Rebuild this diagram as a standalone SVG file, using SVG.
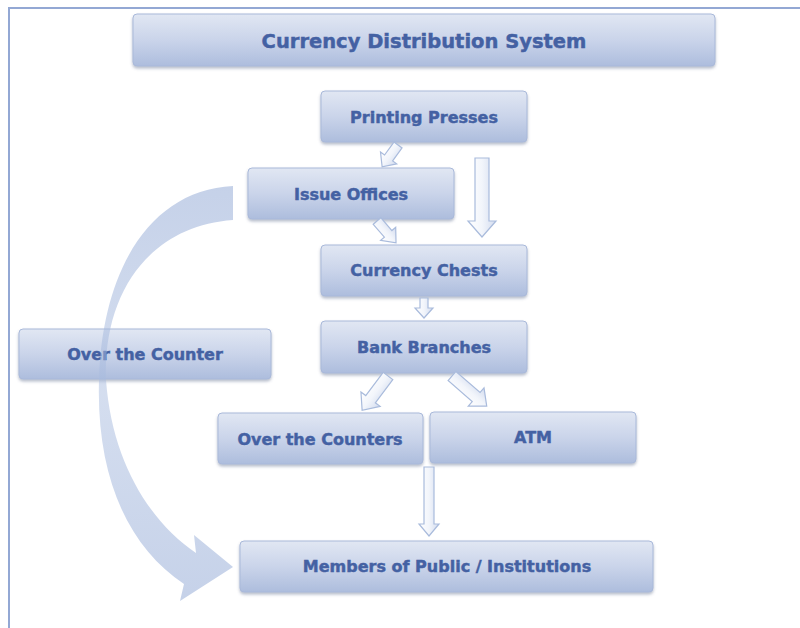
<svg xmlns="http://www.w3.org/2000/svg" width="800" height="628" viewBox="0 0 800 628">
<defs>
<linearGradient id="boxg" x1="0" y1="0" x2="0" y2="1">
<stop offset="0" stop-color="#e1e7f3"/>
<stop offset="0.5" stop-color="#cad4ea"/>
<stop offset="1" stop-color="#adbddd"/>
</linearGradient>
<linearGradient id="arrg" x1="0" y1="0" x2="1" y2="0">
<stop offset="0" stop-color="#ffffff"/>
<stop offset="0.5" stop-color="#f2f5fb"/>
<stop offset="1" stop-color="#d3dcef"/>
</linearGradient>
<linearGradient id="curveg" x1="0" y1="0" x2="0" y2="1">
<stop offset="0" stop-color="#9fb3da" stop-opacity="0.6"/>
<stop offset="0.5" stop-color="#a9bcdf" stop-opacity="0.5"/>
<stop offset="1" stop-color="#9fb3da" stop-opacity="0.6"/>
</linearGradient>
<filter id="sh" x="-10%" y="-20%" width="120%" height="150%">
<feDropShadow dx="0" dy="2" stdDeviation="1.5" flood-color="#5a6b8c" flood-opacity="0.45"/>
</filter>
<style>
.box{fill:url(#boxg);stroke:#a9b9da;stroke-width:1;filter:url(#sh)}
.lbl{font-family:"DejaVu Sans","Liberation Sans",sans-serif;font-weight:bold;font-size:16px;fill:#4461a3;stroke:#4461a3;stroke-width:0.45;text-anchor:middle;dominant-baseline:central}
.arr{fill:url(#arrg);stroke:#a9bbdc;stroke-width:1.2;stroke-linejoin:miter}
.frame{stroke:#93a8d4;stroke-width:2;fill:none}
</style>
</defs>
<rect width="800" height="628" fill="#ffffff"/>
<path class="frame" d="M9,628 V8 H800"/>

<g id="title"><rect class="box" x="133" y="14" width="582" height="52" rx="4"/><text class="lbl" x="424" y="41" style="font-size:19.5px">Currency Distribution System</text></g>
<g id="printing"><rect class="box" x="321" y="91" width="206" height="51" rx="4"/><text class="lbl" x="424" y="117">Printing Presses</text></g>
<g id="issue"><rect class="box" x="248" y="168" width="206" height="51" rx="4"/><text class="lbl" x="351" y="194">Issue Offices</text></g>
<g id="chests"><rect class="box" x="321" y="245" width="206" height="51" rx="4"/><text class="lbl" x="424" y="270">Currency Chests</text></g>
<g id="branches"><rect class="box" x="321" y="321" width="206" height="52" rx="4"/><text class="lbl" x="424" y="347">Bank Branches</text></g>
<g id="otc"><rect class="box" x="19" y="329" width="252" height="50" rx="4"/><text class="lbl" x="145" y="354">Over the Counter</text></g>
<g id="otcs"><rect class="box" x="218" y="413" width="205" height="51" rx="4"/><text class="lbl" x="320" y="439">Over the Counters</text></g>
<g id="atm"><rect class="box" x="430" y="412" width="206" height="51" rx="4"/><text class="lbl" x="533" y="437">ATM</text></g>
<g id="public"><rect class="box" x="240" y="541" width="413" height="51" rx="4"/><text class="lbl" x="447" y="566">Members of Public / Institutions</text></g>

<g id="connectors">
<path d="M233,186 C150,190 102,270 99,380 C96,480 130,548 184,584 L180,601 L233,567 L194,535 L196,553 C150,522 112,462 106,380 C103,292 150,226 233,220 Z" fill="url(#curveg)"/>
<path class="arr" transform="translate(398,145) rotate(36)" d="M-5,0 H5 V16 H10 L0,27 L-10,16 H-5 Z"/>
<path class="arr" transform="translate(482,158)" d="M-7,0 H7 V63 H14 L0,79 L-14,63 H-7 Z"/>
<path class="arr" transform="translate(377,221) rotate(-41)" d="M-5,0 H5 V17 H10 L0,29 L-10,17 H-5 Z"/>
<path class="arr" transform="translate(424,298)" d="M-4,0 H4 V10 H9 L0,20 L-9,10 H-4 Z"/>
<path class="arr" transform="translate(388,376) rotate(37)" d="M-6,0 H6 V29 H12 L0,43 L-12,29 H-6 Z"/>
<path class="arr" transform="translate(452,376) rotate(-49)" d="M-6,0 H6 V32 H12 L0,46 L-12,32 H-6 Z"/>
<path class="arr" transform="translate(429,467)" d="M-5,0 H5 V57 H10 L0,69 L-10,57 H-5 Z"/>
</g>
</svg>
